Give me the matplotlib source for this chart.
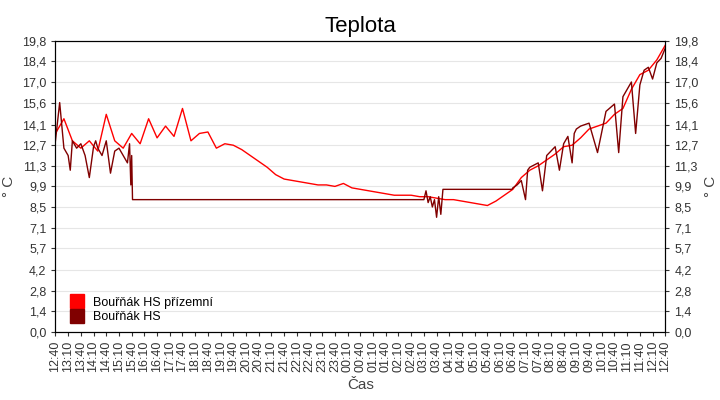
import matplotlib
matplotlib.use("Agg")
import matplotlib.pyplot as plt
import numpy as np
from matplotlib.lines import Line2D

plt.rcParams["font.family"] = "Liberation Sans"

# red series, one value every 20 minutes from 12:40
red_values = [13.5, 14.5, 13.0, 12.5, 13.0, 12.3, 14.8, 13.0, 12.5, 13.5, 12.8, 14.5,
              13.2, 14.0, 13.3, 15.2, 13.0, 13.5, 13.6, 12.5, 12.8, 12.7, 12.4, 12.0,
              11.6, 11.2, 10.7, 10.4, 10.3, 10.2, 10.1, 10.0, 10.0, 9.9, 10.1, 9.8,
              9.7, 9.6, 9.5, 9.4, 9.3, 9.3, 9.3, 9.2, 9.2, 9.1, 9.0, 9.0,
              8.9, 8.8, 8.7, 8.6, 8.9, 9.3, 9.7, 10.5, 11.0, 11.3, 11.7, 12.1,
              12.6, 12.7, 13.2, 13.8, 14.0, 14.2, 14.8, 15.2, 16.5, 17.5, 17.8, 18.5, 19.5]

# dark series: minutes after 12:40 and values
dark_minutes = [0, 10, 20, 30, 35, 40, 50, 60, 70, 80, 90, 95, 100, 110, 120, 130, 140, 150,
                160, 170, 175, 178, 180, 182, 870, 875, 880, 885, 890, 895, 900, 905, 910, 915,
                918, 1078, 1080, 1090, 1100, 1110, 1115, 1120, 1140, 1150, 1160, 1170, 1180,
                1190, 1200, 1210, 1220, 1225, 1230, 1240, 1260, 1280, 1300, 1320, 1330, 1340,
                1360, 1370, 1380, 1390, 1400, 1410, 1420, 1430, 1440]
dark_values = [13.0, 15.6, 12.5, 12.0, 11.0, 13.0, 12.5, 12.8, 12.0, 10.5, 12.6, 13.0, 12.5,
               12.0, 13.0, 10.8, 12.3, 12.5, 12.0, 11.5, 12.8, 10.0, 12.0, 9.0, 9.0, 9.6, 8.8,
               9.2, 8.5, 9.0, 7.8, 9.2, 8.0, 9.7, 9.7, 9.7, 9.8, 10.0, 10.3, 9.0, 11.0, 11.2,
               11.5, 9.6, 12.0, 12.3, 12.6, 11.0, 12.8, 13.3, 11.5, 13.5, 13.8, 14.0, 14.2,
               12.2, 15.0, 15.5, 12.2, 16.0, 17.0, 13.5, 16.8, 17.8, 18.0, 17.2, 18.3, 18.6, 19.3]

y_ticks = [0.0, 1.4, 2.8, 4.2, 5.7, 7.1, 8.5, 9.9, 11.3, 12.7, 14.1, 15.6, 17.0, 18.4, 19.8]
x_labels = []
for i in range(49):
    m = (12 * 60 + 40 + 30 * i) % 1440
    x_labels.append("%02d:%02d" % (m // 60, m % 60))

fig = plt.figure(figsize=(7.2, 4.0), dpi=100)
ax = fig.add_axes([0.077, 0.17, 0.847, 0.728])
red_x = np.arange(len(red_values)) * 20
ax.plot(red_x, red_values, color="#ff0000", lw=1, label="Bouřňák HS přízemní")
ax.plot(dark_minutes, dark_values, color="#800000", lw=1, label="Bouřňák HS")
ax.set_xlim(0, 1440)
ax.set_ylim(0, 19.8)
ax.set_yticks(y_ticks)
ax.set_yticklabels([("%.1f" % v).replace(".", ",") for v in y_ticks], fontsize=9)
ax.set_xticks(np.arange(49) * 30)
ax.set_xticklabels(x_labels, rotation=90, fontsize=9)
ax.grid(axis="y", color="#e6e6e6", lw=0.8)
ax.set_axisbelow(True)
ax.set_ylabel("° C", fontsize=11, color="#444444")
ax.set_xlabel("Čas", fontsize=11, color="#444444")
ax.set_title("Teplota", fontsize=16)
ax.tick_params(colors="#333333", length=3)

ax2 = ax.twinx()
ax2.set_ylim(0, 19.8)
ax2.set_yticks(y_ticks)
ax2.set_yticklabels([("%.1f" % v).replace(".", ",") for v in y_ticks], fontsize=9)
ax2.set_ylabel("° C", fontsize=11, color="#444444")
ax2.tick_params(colors="#333333", length=3)

handles = [Line2D([], [], marker="s", ls="", color="#ff0000", markersize=10),
           Line2D([], [], marker="s", ls="", color="#800000", markersize=10)]
ax.legend(handles, ["Bouřňák HS přízemní", "Bouřňák HS"], loc="lower left", frameon=False,
          fontsize=9, handletextpad=0.3, labelspacing=0.2, borderaxespad=0.3)

fig.savefig("out.png")
